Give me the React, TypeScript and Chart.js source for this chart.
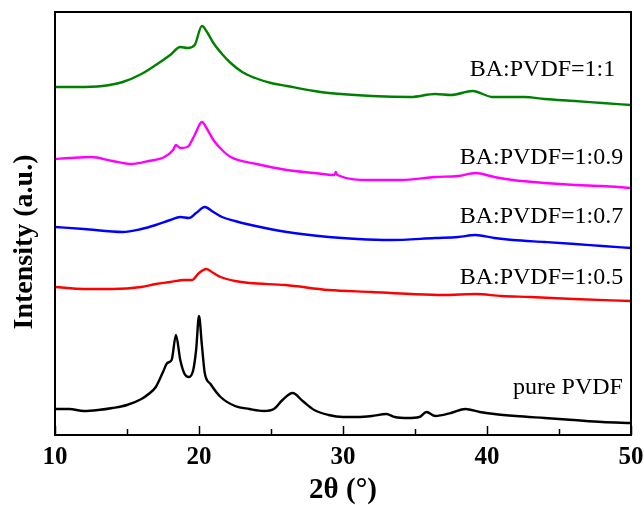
import React, { useEffect, useRef } from "react";
import { Chart, registerables } from "chart.js";

Chart.register(...registerables);

// 2θ positions (degrees) and intensities (a.u.)
const pureX = [10, 11, 12, 13, 14, 15, 16, 16.5, 17, 17.5, 17.8, 18.1, 18.4, 18.7, 19.0, 19.3, 19.6, 19.8, 20.0, 20.2, 20.4, 20.8, 21.5, 22.5, 23.5, 24.5, 25.2, 25.8, 26.5, 27.2, 28, 29, 30, 31, 32, 33, 33.6, 34.5, 35.3, 35.8, 36.4, 37.5, 38.5, 39.5, 40.5, 42, 44, 46, 48, 50];
const pureY = [26, 26, 24, 25, 27, 30, 36, 41, 48, 63, 72, 75, 100, 75, 61, 58, 65, 85, 119, 90, 62, 51, 38, 29, 26, 24, 26, 35, 42, 34, 25, 20, 18, 18, 19, 21, 18, 17, 18, 23, 19, 22, 26, 23, 21, 19, 17, 15, 13, 12];

const r05X = [10, 12, 14, 16, 17, 18, 19, 19.5, 20, 20.5, 21, 21.5, 22.5, 23.5, 26, 29, 32, 34.7, 37, 39.2, 41, 43, 46, 50];
const r05Y = [148, 146, 146, 148, 151, 153, 155, 155, 162, 166, 162, 158, 154, 152, 150, 145, 143, 141, 140, 141, 139, 138, 136, 134];

const r07X = [10, 12, 14.7, 16, 17, 18, 18.7, 19.3, 19.8, 20.4, 21, 21.6, 22.5, 23.3, 26.1, 29, 31, 33.3, 36.4, 38, 39.2, 40.5, 41.8, 44, 46.1, 48, 50];
const r07Y = [208, 206, 203, 206, 210, 215, 218, 217, 222, 228, 223, 218, 214, 211, 203, 198, 196, 195, 197, 198, 200, 197, 195, 193, 191, 189, 187];

const r09X = [10, 11, 12.5, 14, 15.3, 16.5, 17.6, 18.2, 18.4, 18.7, 19.2, 19.7, 20.2, 20.6, 21, 21.6, 22.2, 24, 26.1, 28, 29.4, 29.5, 29.6, 31.9, 34, 36.4, 38, 39.2, 40.5, 41.8, 44, 46.1, 48, 50];
const r09Y = [276, 277, 278, 274, 271, 274, 278, 285, 290, 287, 288, 300, 313, 305, 295, 285, 278, 271, 265, 262, 260, 263, 260, 255, 255, 258, 259, 262, 258, 255, 252, 250, 249, 247];

const r10X = [10, 11.5, 13.3, 14.7, 16, 17, 18, 18.7, 19.2, 19.7, 20.2, 20.6, 21, 21.6, 22.2, 23, 23.9, 25, 26.1, 28, 29, 32, 34.7, 36.4, 37.5, 39, 40.4, 42.6, 44, 46.1, 48, 50];
const r10Y = [348, 348, 349, 353, 361, 370, 380, 388, 387, 390, 409, 402, 392, 381, 372, 363, 357, 352, 349, 344, 342, 339, 338, 341, 340, 344, 338, 338, 336, 334, 332, 330];

const seriesLabels = ["pure PVDF", "BA:PVDF=1:0.5", "BA:PVDF=1:0.7", "BA:PVDF=1:0.9", "BA:PVDF=1:1"];
const seriesColors = ["#000000", "#ff0000", "#0000ff", "#ff00ff", "#008000"];
const labelX = [41.8, 38.1, 38.1, 38.1, 38.8];
const labelY = [41, 151, 212, 271, 359];
const xTicks = [10, 20, 30, 40, 50];
const xMinorTicks = [15, 25, 35, 45];

const toPts = (xs: number[], ys: number[]) => xs.map((x, i) => ({ x, y: ys[i] }));
const FONT = "'Liberation Serif', 'Times New Roman', serif";

export default function App() {
  const ref = useRef<HTMLCanvasElement | null>(null);

  useEffect(() => {
    if (!ref.current) return;
    Chart.defaults.font.family = FONT;
    const data = [toPts(pureX, pureY), toPts(r05X, r05Y), toPts(r07X, r07Y), toPts(r09X, r09Y), toPts(r10X, r10Y)];

    const framePlugin = {
      id: "frame",
      afterDraw(chart: any) {
        const { ctx, chartArea: a, scales } = chart;
        const xs = scales.x;
        const ys = scales.y;
        ctx.save();
        ctx.strokeStyle = "#000";
        ctx.lineWidth = 2;
        ctx.strokeRect(a.left, a.top, a.right - a.left, a.bottom - a.top);
        ctx.lineWidth = 1.5;
        ctx.beginPath();
        xTicks.forEach((t) => {
          const px = Math.round(xs.getPixelForValue(t)) + 0.5;
          ctx.moveTo(px, a.bottom);
          ctx.lineTo(px, a.bottom - 9);
        });
        xMinorTicks.forEach((t) => {
          const px = Math.round(xs.getPixelForValue(t)) + 0.5;
          ctx.moveTo(px, a.bottom);
          ctx.lineTo(px, a.bottom - 6);
        });
        ctx.stroke();
        // series names
        ctx.fillStyle = "#000";
        ctx.font = `24px ${FONT}`;
        ctx.textAlign = "left";
        ctx.textBaseline = "alphabetic";
        seriesLabels.forEach((s, i) => {
          ctx.fillText(s, xs.getPixelForValue(labelX[i]), ys.getPixelForValue(labelY[i]));
        });
        // y-axis title
        ctx.translate(25, 242);
        ctx.rotate(-Math.PI / 2);
        ctx.textAlign = "center";
        ctx.textBaseline = "middle";
        ctx.font = `bold 28px ${FONT}`;
        ctx.fillText("Intensity (a.u.)", 0, 0);
        ctx.restore();
      },
    };

    const chart = new Chart(ref.current, {
      type: "line",
      data: {
        datasets: data.map((d, i) => ({
          label: seriesLabels[i],
          data: d,
          borderColor: seriesColors[i],
          backgroundColor: seriesColors[i],
          borderWidth: 2.4,
          pointRadius: 0,
          fill: false,
          cubicInterpolationMode: "monotone" as const,
        })),
      },
      options: {
        animation: false,
        responsive: false,
        maintainAspectRatio: false,
        layout: { padding: { left: 55, top: 12, right: 13, bottom: 0 } },
        plugins: { legend: { display: false }, tooltip: { enabled: false } },
        scales: {
          x: {
            type: "linear",
            min: 10,
            max: 50,
            afterFit(scale: any) {
              scale.paddingLeft = 0;
              scale.paddingRight = 0;
              scale.height = 70;
            },
            grid: { display: false, drawTicks: false },
            border: { display: false },
            ticks: {
              stepSize: 10,
              padding: 10,
              color: "#000",
              font: { size: 25, weight: "bold", lineHeight: 1 },
            },
            title: {
              display: true,
              text: "2θ (°)",
              color: "#000",
              font: { size: 29, weight: "bold", lineHeight: 0.9 },
              padding: { top: 6, bottom: 1 },
            },
          },
          y: {
            display: false,
            min: 0,
            max: 423,
          },
        },
      },
      plugins: [framePlugin],
    });
    return () => chart.destroy();
  }, []);

  return (
    <div style={{ position: "fixed", left: 0, top: 0, width: 644, height: 505, background: "#fff" }}>
      <canvas ref={ref} width={644} height={505} style={{ width: 644, height: 505 }} />
    </div>
  );
}
